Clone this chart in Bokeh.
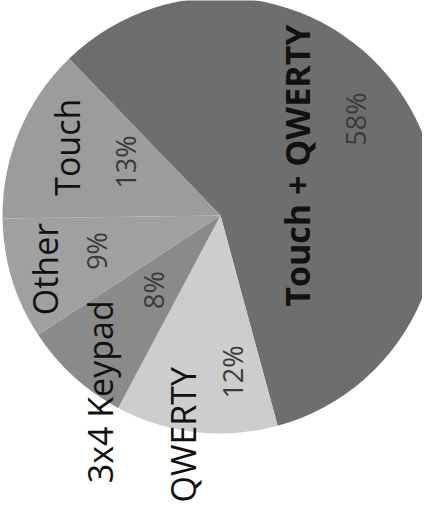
import math
from bokeh.plotting import figure
from bokeh.models import Range1d, ColumnDataSource
from bokeh.core.properties import value, field
from bokeh.embed import file_html
from bokeh.resources import INLINE

# ---- data ----
categories = ["Touch + QWERTY", "QWERTY", "3x4 Keypad", "Other", "Touch"]
shares = [58, 12, 8, 9, 13]
pct_labels = ["58%", "12%", "8%", "9%", "13%"]

# ---- styles ----
colors = ["#6e6e6e", "#cdcdcd", "#8a8a8a", "#a0a0a0", "#9c9c9c"]
name_styles = ["bold", "normal", "normal", "normal", "normal"]
name_rfrac = [0.42, 1.02, 0.98, 0.84, 0.77]
name_nudge = [3.4, -3.3, 8.0, 0.0, -1.4]
pct_rfrac = [0.76, 0.72, 0.46, 0.59, 0.50]
pct_nudge = [6.0, 10.8, 0.4, -1.0, -6.8]
start_deg = 134.0
R = 218.0

W, H = 422, 503
p = figure(width=W, height=H, output_backend="svg", toolbar_location=None,
           x_range=Range1d(-220, 202), y_range=Range1d(-288, 215),
           x_axis_type=None, y_axis_type=None, min_border=0)
p.grid.visible = False
p.outline_line_color = None
p.background_fill_color = "white"
p.border_fill_color = "white"

total = float(sum(shares))
starts, ends, mids = [], [], []
cum = 0.0
for s in shares:
    hi = start_deg - cum / total * 360.0
    lo = hi - s / total * 360.0
    cum += s
    starts.append(math.radians(lo))
    ends.append(math.radians(hi))
    mids.append((lo + hi) / 2.0)

wsrc = ColumnDataSource(dict(start=starts, end=ends, color=colors))
p.wedge(x=0, y=0, radius=R, start_angle="start", end_angle="end",
        fill_color="color", line_color=None, source=wsrc)

nx, ny, px, py = [], [], [], []
for i in range(len(shares)):
    a = math.radians(mids[i] + name_nudge[i])
    nx.append(R * name_rfrac[i] * math.cos(a))
    ny.append(R * name_rfrac[i] * math.sin(a))
    b = math.radians(mids[i] + pct_nudge[i])
    px.append(R * pct_rfrac[i] * math.cos(b))
    py.append(R * pct_rfrac[i] * math.sin(b))

nsrc = ColumnDataSource(dict(x=nx, y=ny, text=categories, style=name_styles))
p.text(x="x", y="y", text="text", source=nsrc, angle=math.pi / 2,
       text_align="center", text_baseline="middle",
       text_font=value("Open Sans"), text_font_size="34px",
       text_font_style=field("style"), text_color="#111111")

psrc = ColumnDataSource(dict(x=px, y=py, text=pct_labels))
p.text(x="x", y="y", text="text", source=psrc, angle=math.pi / 2,
       text_align="center", text_baseline="middle",
       text_font=value("Open Sans"), text_font_size="27px",
       text_color="#3a3a3a")

open("out.html", "w").write(file_html(p, INLINE))
